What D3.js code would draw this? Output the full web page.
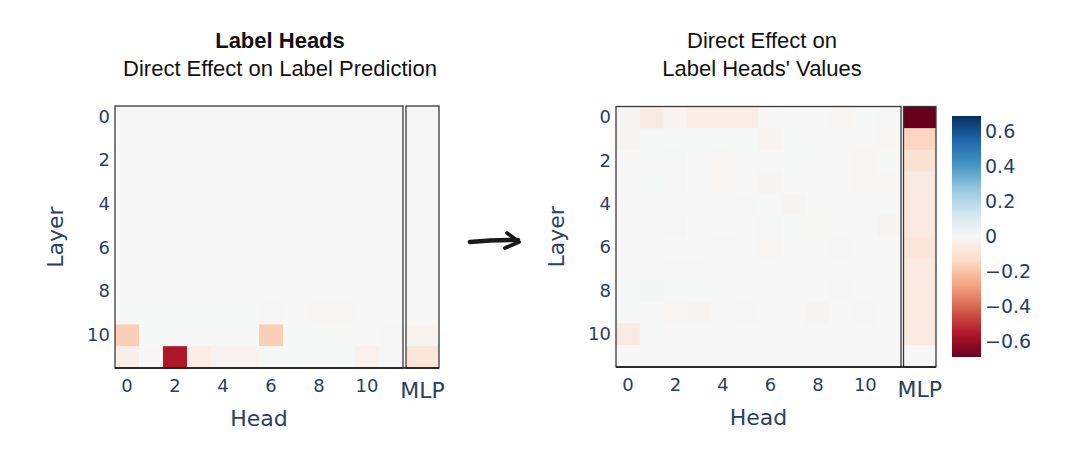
<!DOCTYPE html>
<html lang="en">
<head>
    <meta charset="UTF-8">
    <title>Label Heads - Direct Effect</title>
    <script src="https://cdnjs.cloudflare.com/ajax/libs/d3/7.8.5/d3.min.js"></script>
    <style>
        body {
            margin: 0;
            background: white;
        }
        .tick text {
            font-family: "DejaVu Sans", Verdana, sans-serif;
            fill: #2a3f5f;
        }
        .axis-title {
            font-family: "DejaVu Sans", Verdana, sans-serif;
            fill: #2a3f5f;
            font-size: 22px;
        }
        .title {
            font-family: "Liberation Sans", Arial, sans-serif;
            font-size: 22px;
            fill: #111;
        }
    </style>
</head>
<body>
    <svg id="chart" width="1080" height="451"></svg>

    <script>
        // heads 0..11 and layers 0..11
        const heads = d3.range(12);
        const layers = d3.range(12);
        const xTicks = [0, 2, 4, 6, 8, 10];
        const yTicks = [0, 2, 4, 6, 8, 10];
        const cbTicks = [-0.6, -0.4, -0.2, 0, 0.2, 0.4, 0.6];
        const zRange = [-0.69, 0.69];
        // RdBu colour stops, low to high
        const rdbu = ["#67001f", "#b2182b", "#d6604d", "#f4a582", "#fddbc7", "#f7f7f7",
                      "#d1e5f0", "#92c5de", "#4393c3", "#2166ac", "#053061"];

        // left panel: direct effect on label prediction (rows = layers, cols = heads)
        const labelPred = [
            [0, 0, 0, 0, 0, 0, 0, 0, 0, 0, 0, 0],
            [0, 0, 0, 0, 0, 0, 0, 0, 0, 0, 0, 0],
            [0, 0, 0, 0, 0, 0, 0, 0, 0, 0, 0, 0],
            [0, 0, 0, 0, 0, 0, 0, 0, 0, 0, 0, 0],
            [0, 0, 0, 0, 0, 0, 0, 0, 0, 0, 0, 0],
            [0, 0, 0, 0, 0, 0, 0, 0, 0, 0, 0, 0],
            [0, 0, 0, 0, 0, 0, 0, 0, 0, 0, 0, 0],
            [0, 0, 0, 0, 0, 0, 0, 0, 0, 0, 0, 0],
            [0, 0, 0, 0, 0, 0, 0, 0, 0, 0, 0, 0],
            [0.002, 0.002, 0.002, 0.002, 0.002, 0.002, -0.004, 0, -0.007, -0.005, 0, 0],
            [-0.17, 0.002, 0.002, 0.002, 0.002, 0.002, -0.17, 0.002, 0.002, 0, 0, -0.004],
            [-0.04, -0.005, -0.56, -0.05, -0.02, -0.02, 0.003, 0.002, 0.002, 0.003, -0.03, -0.004]
        ];
        const labelPredMLP = [0, 0, 0, 0, 0, 0, 0, 0, 0, 0, -0.02, -0.09];

        // right panel: direct effect on label heads' values
        const headValues = [
            [-0.008, -0.06, -0.02, -0.05, -0.05, -0.05, 0, 0, 0, -0.012, 0.003, -0.004],
            [-0.008, 0.003, 0.003, 0.003, 0.003, 0.003, -0.015, 0.003, 0, 0, 0, -0.005],
            [0, 0, -0.004, 0, -0.007, 0, 0, 0.002, 0, 0, -0.007, 0.002],
            [0, 0.002, -0.004, 0, -0.006, 0, -0.008, 0, 0, 0, -0.007, -0.007],
            [0, 0, 0, 0, 0, -0.004, 0.003, -0.01, 0, 0, 0, 0.002],
            [0, 0, -0.003, 0, 0, 0, -0.003, 0.002, -0.002, 0, 0, -0.008],
            [0, 0, 0, 0, -0.004, 0, -0.007, 0, 0, -0.004, 0, 0],
            [0, 0, -0.004, -0.004, -0.004, 0, 0, 0, 0, 0, 0, 0],
            [0.003, 0.01, 0.003, 0.003, 0, 0, 0, 0, 0, -0.004, 0, 0],
            [0.002, 0, -0.007, -0.008, 0, -0.004, 0, 0, -0.008, 0, -0.004, 0],
            [-0.06, 0.002, 0, 0, 0, 0, 0, 0, 0, 0, 0, 0],
            [0, 0, 0, 0, 0, 0, 0, 0, 0, 0, 0, 0]
        ];
        const headValuesMLP = [-0.69, -0.15, -0.1, -0.07, -0.07, -0.07, -0.09, -0.065, -0.065, -0.065, -0.065, 0];

        const svg = d3.select("#chart");
        const color = d3.scaleLinear()
            .domain(rdbu.map((c, i) => zRange[0] + (zRange[1] - zRange[0]) * i / (rdbu.length - 1)))
            .range(rdbu)
            .interpolate(d3.interpolateRgb)
            .clamp(true);

        function drawPanel(cfg) {
            const g = svg.append("g");

            const x = d3.scaleBand().domain(heads).range([cfg.left, cfg.right]);
            const xm = d3.scaleBand().domain(["MLP"]).range([cfg.mlpLeft, cfg.mlpRight]);
            const y = d3.scaleBand().domain(layers).range([cfg.top, cfg.bottom]);

            const cells = [];
            cfg.data.forEach((row, i) => row.forEach((v, j) => cells.push({ layer: layers[i], head: heads[j], v })));

            g.append("g")
                .selectAll("rect")
                .data(cells)
                .join("rect")
                .attr("x", d => x(d.head))
                .attr("y", d => y(d.layer))
                .attr("width", x.bandwidth() + 0.5)
                .attr("height", y.bandwidth() + 0.5)
                .attr("fill", d => color(d.v));

            g.append("g")
                .selectAll("rect")
                .data(cfg.mlp)
                .join("rect")
                .attr("x", xm("MLP"))
                .attr("y", (d, i) => y(layers[i]))
                .attr("width", xm.bandwidth())
                .attr("height", y.bandwidth() + 0.5)
                .attr("fill", d => color(d));

            // frames
            g.append("rect")
                .attr("x", cfg.left).attr("y", cfg.top)
                .attr("width", cfg.right - cfg.left).attr("height", cfg.bottom - cfg.top)
                .attr("fill", "none").attr("stroke", "#3a3a3a").attr("stroke-width", 1.3);
            g.append("rect")
                .attr("x", cfg.mlpLeft).attr("y", cfg.top)
                .attr("width", cfg.mlpRight - cfg.mlpLeft).attr("height", cfg.bottom - cfg.top)
                .attr("fill", "none").attr("stroke", "#3a3a3a").attr("stroke-width", 1.3);
            // darker bottom edge
            g.append("line")
                .attr("x1", cfg.left).attr("x2", cfg.mlpRight)
                .attr("y1", cfg.bottom).attr("y2", cfg.bottom)
                .attr("stroke", "#111").attr("stroke-width", 1.5);

            // axes
            const xAxis = g.append("g")
                .attr("transform", `translate(0,${cfg.bottom})`)
                .call(d3.axisBottom(x).tickValues(xTicks).tickSize(0).tickPadding(11));
            xAxis.select(".domain").remove();
            xAxis.selectAll("text").style("font-size", "18px");

            const mAxis = g.append("g")
                .attr("transform", `translate(0,${cfg.bottom})`)
                .call(d3.axisBottom(xm).tickSize(0).tickPadding(14));
            mAxis.select(".domain").remove();
            mAxis.selectAll("text").style("font-size", "22px");

            const yAxis = g.append("g")
                .attr("transform", `translate(${cfg.left},0)`)
                .call(d3.axisLeft(y).tickValues(yTicks).tickSize(0).tickPadding(5));
            yAxis.select(".domain").remove();
            yAxis.selectAll("text").style("font-size", "18px");

            g.append("text")
                .attr("class", "axis-title")
                .attr("text-anchor", "middle")
                .attr("x", (cfg.left + cfg.right) / 2)
                .attr("y", cfg.bottom + 58)
                .text("Head");

            g.append("text")
                .attr("class", "axis-title")
                .attr("text-anchor", "middle")
                .attr("transform", `translate(${cfg.left - 52},${(cfg.top + cfg.bottom) / 2}) rotate(-90)`)
                .text("Layer");

            // titles
            cfg.title.forEach((t, i) => {
                g.append("text")
                    .attr("class", "title")
                    .attr("text-anchor", "middle")
                    .attr("x", cfg.titleX)
                    .attr("y", 48 + i * 28)
                    .style("font-weight", t.bold ? "bold" : "normal")
                    .text(t.text);
            });
        }

        drawPanel({
            left: 115, right: 403, mlpLeft: 406, mlpRight: 439, top: 106, bottom: 368,
            data: labelPred, mlp: labelPredMLP, titleX: 280,
            title: [{ text: "Label Heads", bold: true }, { text: "Direct Effect on Label Prediction" }]
        });

        drawPanel({
            left: 616, right: 901, mlpLeft: 903.5, mlpRight: 936, top: 106.5, bottom: 367,
            data: headValues, mlp: headValuesMLP, titleX: 762,
            title: [{ text: "Direct Effect on" }, { text: "Label Heads' Values" }]
        });

        // colorbar
        const cb = { x: 952, w: 29, top: 116, bottom: 357 };
        const cbScale = d3.scaleLinear().domain(zRange).range([cb.bottom, cb.top]);
        const defs = svg.append("defs");
        const grad = defs.append("linearGradient")
            .attr("id", "cbgrad")
            .attr("x1", 0).attr("y1", 1).attr("x2", 0).attr("y2", 0);
        rdbu.forEach((c, i) => {
            grad.append("stop")
                .attr("offset", i / (rdbu.length - 1))
                .attr("stop-color", c);
        });
        svg.append("rect")
            .attr("x", cb.x).attr("y", cb.top)
            .attr("width", cb.w).attr("height", cb.bottom - cb.top)
            .attr("fill", "url(#cbgrad)");

        const cbAxis = svg.append("g")
            .attr("transform", `translate(${cb.x + cb.w},0)`)
            .call(d3.axisRight(cbScale).tickValues(cbTicks).tickSize(0).tickPadding(4)
                .tickFormat(d => d === 0 ? "0" : d3.format(".1f")(d).replace("-", "\u2212")));
        cbAxis.select(".domain").remove();
        cbAxis.selectAll("text").style("font-size", "19px");

        // hand-drawn arrow between panels
        const arrow = svg.append("g")
            .attr("transform", "translate(470,241)")
            .attr("fill", "none")
            .attr("stroke", "#1a1a1a")
            .attr("stroke-linecap", "round")
            .attr("stroke-linejoin", "round");
        arrow.append("path")
            .attr("d", "M0,1 Q24,-1.5 48,-1")
            .attr("stroke-width", 4.5);
        arrow.append("path")
            .attr("d", "M37,-8 Q44,-3 49,1 Q42,4 35,7")
            .attr("stroke-width", 3.8);
    </script>
</body>
</html>
